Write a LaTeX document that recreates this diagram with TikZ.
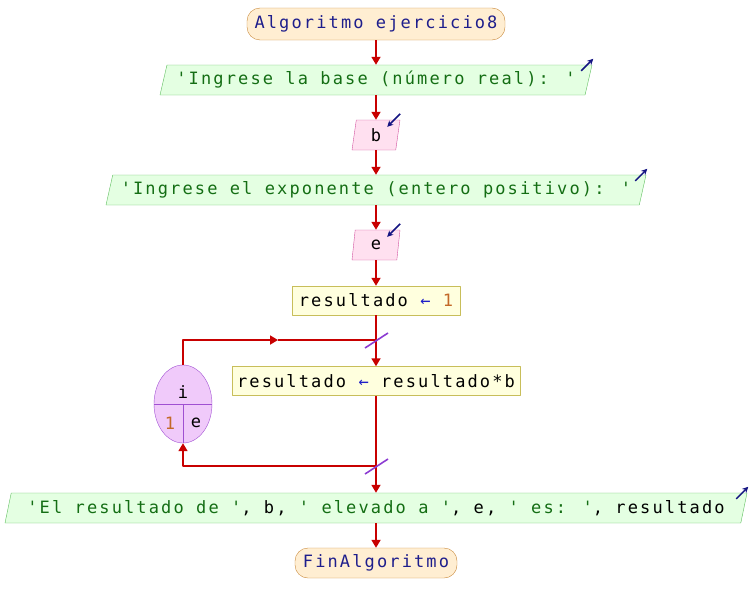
\documentclass[tikz,border=0pt]{standalone}
\usepackage{fontspec}
\newfontfamily\psmono[LetterSpace=12.5,Ligatures=TeXOff]{DejaVu Sans Mono}
\usetikzlibrary{shapes.geometric,arrows.meta}
\definecolor{flowred}{RGB}{200,0,0}
\definecolor{termfill}{RGB}{255,238,210}
\definecolor{termline}{RGB}{200,135,55}
\definecolor{outfill}{RGB}{228,255,226}
\definecolor{outline}{RGB}{95,190,95}
\definecolor{infill}{RGB}{255,224,240}
\definecolor{inline}{RGB}{210,85,160}
\definecolor{asfill}{RGB}{255,255,222}
\definecolor{asline}{RGB}{200,190,90}
\definecolor{loopfill}{RGB}{240,202,250}
\definecolor{loopline}{RGB}{160,80,210}
\definecolor{kwcol}{RGB}{30,30,140}
\definecolor{strcol}{RGB}{20,110,20}
\definecolor{numcol}{RGB}{195,105,40}
\definecolor{arrcol}{RGB}{30,30,200}
\definecolor{iocol}{RGB}{20,20,130}
\definecolor{slashcol}{RGB}{140,60,210}
\newcommand{\str}[1]{{\color{strcol}#1}}
\newcommand{\num}[1]{{\color{numcol}#1}}
\newcommand{\asg}{{\color{arrcol}←}}
\begin{document}
\begin{tikzpicture}[x=1pt,y=1pt,line join=round,>={Triangle[width=9pt,length=8pt]},
	every node/.style={font=\psmono\fontsize{17}{19}\selectfont,inner sep=0pt},
	term/.style={draw=termline,fill=termfill,rounded corners=13pt,text=kwcol},
	outbox/.style={trapezium,trapezium left angle=68,trapezium right angle=112,trapezium stretches body,draw=outline,fill=outfill,minimum height=30},
	inbox/.style={trapezium,trapezium left angle=72,trapezium right angle=108,trapezium stretches body,draw=inline,fill=infill,minimum height=30},
	assign/.style={draw=asline,fill=asfill,minimum height=29},
	flow/.style={flowred,line width=1.7pt},
	ioarrow/.style={iocol,line width=1.5pt,-{Stealth[length=6pt,width=6pt]}},
	slash/.style={slashcol,line width=1.6pt}]
	\useasboundingbox (0,0) rectangle (752,-613);
	% nodes
	\node[term,minimum width=258,minimum height=32] (start) at (376,-24) {Algoritmo ejercicio8};
	\node[outbox,minimum width=432] (o1) at (376,-80) {\str{'Ingrese la base (número real): '}};
	\node[inbox,minimum width=48] (inb) at (376,-135) {b};
	\node[outbox,minimum width=540] (o2) at (376,-190) {\str{'Ingrese el exponente (entero positivo): '}};
	\node[inbox,minimum width=48] (ine) at (376,-245) {e};
	\node[assign,minimum width=168] (a1) at (376,-300.5) {resultado \asg{} \num{1}};
	\node[assign,minimum width=288] (a2) at (376,-381) {resultado \asg{} resultado*b};
	\node[outbox,minimum width=742] (o3) at (376,-508) {\str{'El resultado de '}, b, \str{' elevado a '}, e, \str{' es: '}, resultado};
	\node[term,minimum width=162,minimum height=30] (fin) at (376,-563) {FinAlgoritmo};
	% loop
	\node[ellipse,draw=loopline,fill=loopfill,minimum width=58,minimum height=78] (loopvar) at (183,-404) {};
	\draw[loopline] (loopvar.west) -- (loopvar.east);
	\draw[loopline] (loopvar.center) -- (loopvar.south);
	\node (lvar) at (183,-392) {i};
	\node (lfrom) at (170,-423) {\num{1}};
	\node (lto) at (196,-423) {e};
	\coordinate (j1) at (376,-340);
	\coordinate (j2) at (376,-466);
	\coordinate (mid1) at (278,-340);
	% connectors
	\draw[flow,->] (start) -- (o1);
	\draw[flow,->] (o1) -- (inb);
	\draw[flow,->] (inb) -- (o2);
	\draw[flow,->] (o2) -- (ine);
	\draw[flow,->] (ine) -- (a1);
	\draw[flow] (a1) -- (j1);
	\draw[flow,->] (j1) -- (a2);
	\draw[flow,->] (loopvar.north) |- (mid1);
	\draw[flow] (mid1) -- (j1);
	\draw[flow] (a2) -- (j2);
	\draw[flow,->] (j2) -| (loopvar.south);
	\draw[flow,->] (j2) -- (o3);
	\draw[flow,->] (o3) -- (fin);
	\draw[slash] ([shift={(-11,-8)}]j1) -- ([shift={(12,7)}]j1);
	\draw[slash] ([shift={(-11,-8)}]j2) -- ([shift={(12,7)}]j2);
	% io marks
	\draw[ioarrow] ([shift={(-11,-6)}]o1.top right corner) -- ([shift={(1,6)}]o1.top right corner);
	\draw[ioarrow] ([shift={(-11,-6)}]o2.top right corner) -- ([shift={(1,6)}]o2.top right corner);
	\draw[ioarrow] ([shift={(-11,-6)}]o3.top right corner) -- ([shift={(1,6)}]o3.top right corner);
	\draw[ioarrow] ([shift={(0,6)}]inb.top right corner) -- ([shift={(-13,-7)}]inb.top right corner);
	\draw[ioarrow] ([shift={(0,6)}]ine.top right corner) -- ([shift={(-13,-7)}]ine.top right corner);
\end{tikzpicture}
\end{document}
